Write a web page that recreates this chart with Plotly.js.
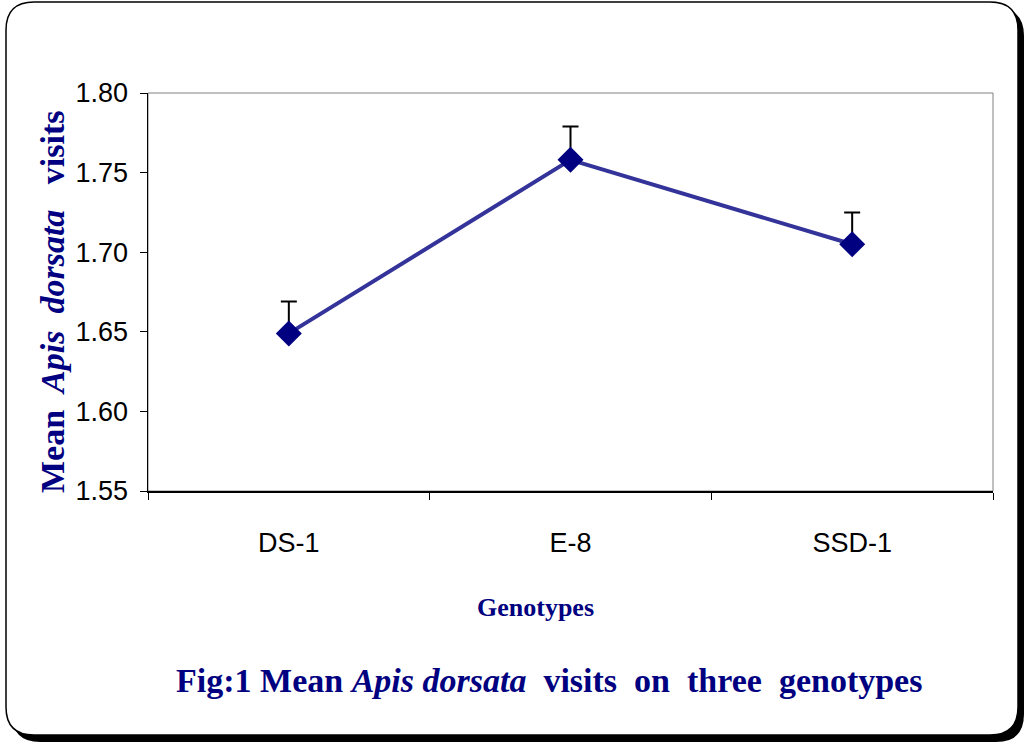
<!DOCTYPE html>
<html>
<head>
<meta charset="utf-8">
<script src="https://cdn.plot.ly/plotly-3.0.1.min.js"></script>
<style>html,body{margin:0;padding:0;background:#fff;}#chart{width:1026px;height:746px;}</style>
</head>
<body>
<div id="chart"></div>
<script>
// Data
var genotypes = ["DS-1", "E-8", "SSD-1"];
var meanVisits = [1.649, 1.758, 1.705];
var errPlus = [0.020, 0.021, 0.020];
var yTickVals = [1.55, 1.60, 1.65, 1.70, 1.75, 1.80];

// layout geometry (pixels)
var W = 1026, H = 746;
var L = 148, R = 993, T = 93, B = 491;
function px(x){ return (x - L) / (R - L); }
function py(y){ return (B - y) / (B - T); }
function roundRect(x0, y0, x1, y1, r){
  return "M" + px(x0 + r) + "," + py(y0) +
    " L" + px(x1 - r) + "," + py(y0) +
    " Q" + px(x1) + "," + py(y0) + " " + px(x1) + "," + py(y0 + r) +
    " L" + px(x1) + "," + py(y1 - r) +
    " Q" + px(x1) + "," + py(y1) + " " + px(x1 - r) + "," + py(y1) +
    " L" + px(x0 + r) + "," + py(y1) +
    " Q" + px(x0) + "," + py(y1) + " " + px(x0) + "," + py(y1 - r) +
    " L" + px(x0) + "," + py(y0 + r) +
    " Q" + px(x0) + "," + py(y0) + " " + px(x0 + r) + "," + py(y0) + " Z";
}

var trace = {
  x: genotypes,
  y: meanVisits,
  type: "scatter",
  mode: "lines+markers",
  line: {color: "#333399", width: 4},
  marker: {symbol: "diamond", size: 20, color: "#000080"},
  error_y: {type: "data", symmetric: false, array: errPlus, arrayminus: [0,0,0],
            color: "#000000", thickness: 2, width: 8},
  hoverinfo: "x+y",
  showlegend: false
};

var navy = "#000080";
var tickFont = {family: "Liberation Sans, Arial, sans-serif", size: 27, color: "#000"};
var layout = {
  width: W, height: H,
  margin: {l: L, r: W - R, t: T, b: H - B},
  paper_bgcolor: "#ffffff",
  plot_bgcolor: "rgba(0,0,0,0)",
  showlegend: false,
  xaxis: {
    type: "category",
    range: [-0.5, 2.5],
    tickson: "boundaries",
    ticks: "outside", ticklen: 7, tickcolor: "#000", tickwidth: 1,
    showline: true, linecolor: "#000", linewidth: 1.5,
    showgrid: false, zeroline: false,
    ticklabelstandoff: 27,
    tickfont: tickFont
  },
  yaxis: {
    range: [1.55, 1.80],
    tickvals: yTickVals,
    ticktext: yTickVals.map(function(v){ return v.toFixed(2); }),
    ticks: "outside", ticklen: 7, tickcolor: "#000", tickwidth: 1,
    showline: true, linecolor: "#000", linewidth: 1.5,
    showgrid: false, zeroline: false,
    ticklabelstandoff: 6,
    tickfont: tickFont
  },
  shapes: [
    {type: "path", xref: "paper", yref: "paper", layer: "below",
     path: roundRect(12, 8, 1024, 742, 28), fillcolor: "#000", line: {width: 0}},
    {type: "path", xref: "paper", yref: "paper", layer: "below",
     path: roundRect(6, 2, 1018, 735, 28), fillcolor: "#fff", line: {color: "#000", width: 1.5}},
    {type: "rect", xref: "paper", yref: "paper", layer: "below",
     x0: 0, x1: 1, y0: 0, y1: 1, line: {color: "#808080", width: 1}}
  ],
  annotations: [
    {text: "<b>Mean  <i>Apis  dorsata</i>   visits</b>", xref: "paper", yref: "paper",
     x: px(52), y: py(302), textangle: -90, showarrow: false,
     xanchor: "center", yanchor: "middle",
     font: {family: "Liberation Serif, Times New Roman, serif", size: 34, color: navy}},
    {text: "<b>Genotypes</b>", xref: "paper", yref: "paper",
     x: px(535), y: py(607), showarrow: false, xanchor: "center", yanchor: "middle",
     font: {family: "Liberation Serif, Times New Roman, serif", size: 26, color: navy}},
    {text: "<b>Fig:1 Mean <i>Apis dorsata</i>  visits  on  three  genotypes</b>", xref: "paper", yref: "paper",
     x: px(549), y: py(680), showarrow: false, xanchor: "center", yanchor: "middle",
     font: {family: "Liberation Serif, Times New Roman, serif", size: 34, color: navy}}
  ]
};

Plotly.newPlot("chart", [trace], layout, {displayModeBar: false, staticPlot: true});
</script>
</body>
</html>
